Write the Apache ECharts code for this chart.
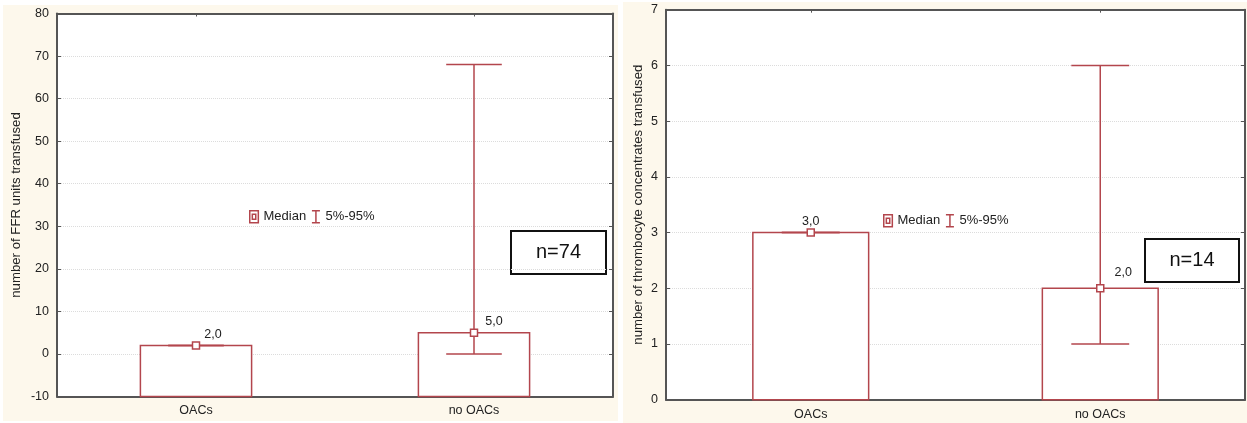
<!DOCTYPE html>
<html>
<head>
<meta charset="utf-8">
<script src="https://cdn.jsdelivr.net/npm/echarts@6/dist/echarts.min.js"></script>
<style>
html,body{margin:0;padding:0;background:#fff;}
#c{width:1247px;height:423px;}
</style>
</head>
<body>
<div id="c"></div>
<script>
// ---- data ----
const categories = ['OACs', 'no OACs'];
// chart 1: FFR units
const ffrMedian = [2.0, 5.0];
const ffrLow = [2.0, 0];
const ffrHigh = [2.0, 68];
const ffrTicks = { min: -10, max: 80, interval: 10 };
const ffrN = 'n=74';
const ffrTitle = 'number of FFR units transfused';
// chart 2: thrombocyte concentrates
const tcMedian = [3.0, 2.0];
const tcLow = [3.0, 1];
const tcHigh = [3.0, 6];
const tcTicks = { min: 0, max: 7, interval: 1 };
const tcN = 'n=14';
const tcTitle = 'number of thrombocyte concentrates transfused';

// ---- style ----
const RED = '#b3464d';
const FRAME = '#555555';
const TXT = '#222222';
const CREAM = '#fdf8ec';
const FONT = 'Arial, "Liberation Sans", sans-serif';

const chart = echarts.init(document.getElementById('c'), null, { renderer: 'canvas' });

function fmt(v) { return v.toFixed(1).replace('.', ','); }

function axesFor(gi, ticks, title, nameGap) {
  const xs = [
    {
      type: 'category', gridIndex: gi, data: categories, position: 'bottom',
      axisLine: { show: true, onZero: false, lineStyle: { color: FRAME, width: 2 } },
      axisTick: { show: true, inside: true, length: 3, alignWithLabel: true, lineStyle: { color: FRAME } },
      axisLabel: { color: TXT, fontSize: 12.5, fontFamily: FONT, margin: 8 },
      splitLine: { show: false }
    },
    {
      type: 'category', gridIndex: gi, data: categories, position: 'top',
      axisLine: { show: true, onZero: false, lineStyle: { color: FRAME, width: 2 } },
      axisTick: { show: true, inside: true, length: 3, alignWithLabel: true, lineStyle: { color: FRAME } },
      axisLabel: { show: false },
      splitLine: { show: false }
    }
  ];
  const ys = [
    {
      type: 'value', gridIndex: gi, position: 'left',
      min: ticks.min, max: ticks.max, interval: ticks.interval,
      name: title, nameLocation: 'middle', nameGap: nameGap, nameRotate: 90,
      nameTextStyle: { color: TXT, fontSize: 13.2, fontFamily: FONT },
      axisLine: { show: true, onZero: false, lineStyle: { color: FRAME, width: 2 } },
      axisTick: { show: true, inside: true, length: 4, lineStyle: { color: FRAME } },
      axisLabel: { color: TXT, fontSize: 12.5, fontFamily: FONT, margin: 8 },
      splitLine: { show: true, lineStyle: { color: '#dcdcdc', type: 'dotted', width: 1 } }
    },
    {
      type: 'value', gridIndex: gi, position: 'right',
      min: ticks.min, max: ticks.max, interval: ticks.interval,
      axisLine: { show: true, onZero: false, lineStyle: { color: FRAME, width: 2 } },
      axisTick: { show: true, inside: true, length: 4, lineStyle: { color: FRAME } },
      axisLabel: { show: false },
      splitLine: { show: false }
    }
  ];
  return { xs, ys };
}

function seriesFor(gi, median, low, high, ticks, labelOffsets) {
  const xi = gi * 2, yi = gi * 2;
  const barData = median.map((v, i) => [i, v]);
  const errData = low.map((l, i) => [i, l, high[i]]);
  const medData = median.map((v, i) => ({
    value: [i, v],
    label: { offset: labelOffsets[i] }
  }));
  return [
    {
      type: 'custom', name: 'bar' + gi, xAxisIndex: xi, yAxisIndex: yi, z: 2,
      renderItem: function (params, api) {
        const c = api.value(0), v = api.value(1);
        const p = api.coord([c, v]);
        const p0 = api.coord([c, ticks.min]);
        const bw = api.size([1, 0])[0] * 0.4;
        return {
          type: 'rect',
          shape: { x: p[0] - bw / 2, y: p[1], width: bw, height: p0[1] - p[1] },
          style: { fill: '#fff', stroke: RED, lineWidth: 1.5 }
        };
      },
      encode: { x: 0, y: 1 },
      data: barData
    },
    {
      type: 'custom', name: '5%-95%', xAxisIndex: xi, yAxisIndex: yi, z: 3,
      renderItem: function (params, api) {
        const c = api.value(0);
        const lo = api.coord([c, api.value(1)]);
        const hi = api.coord([c, api.value(2)]);
        const cw = api.size([1, 0])[0] * 0.2;
        const st = { stroke: RED, lineWidth: 1.5 };
        return {
          type: 'group',
          children: [
            { type: 'line', shape: { x1: lo[0], y1: lo[1], x2: hi[0], y2: hi[1] }, style: st },
            { type: 'line', shape: { x1: lo[0] - cw / 2, y1: lo[1], x2: lo[0] + cw / 2, y2: lo[1] }, style: st },
            { type: 'line', shape: { x1: hi[0] - cw / 2, y1: hi[1], x2: hi[0] + cw / 2, y2: hi[1] }, style: st }
          ]
        };
      },
      encode: { x: 0, y: [1, 2] },
      itemStyle: { color: 'transparent', borderColor: RED },
      data: errData
    },
    {
      type: 'scatter', name: 'Median', xAxisIndex: xi, yAxisIndex: yi, z: 4,
      symbol: 'rect', symbolSize: 7,
      itemStyle: { color: '#fff', borderColor: RED, borderWidth: 1.5, opacity: 1 },
      label: {
        show: true, position: 'top', distance: 0, color: TXT, fontSize: 12.5, fontFamily: FONT,
        formatter: p => fmt(p.value[1])
      },
      emphasis: { disabled: true },
      data: medData
    }
  ];
}

const a1 = axesFor(0, ffrTicks, ffrTitle, 34);
const a2 = axesFor(1, tcTicks, tcTitle, 21);

const medianIcon = 'path://M0,0L10,0L10,14L0,14Z M3,4L7,4L7,10L3,10Z';
const errIcon = 'path://M0,0L8,0M4,0L4,12M0,12L8,12';

function legendAt(left, top) {
  return {
    left: left, top: top, orient: 'horizontal', selectedMode: false,
    itemWidth: 9, itemHeight: 12, itemGap: 5,
    textStyle: { color: TXT, fontSize: 13, fontFamily: FONT },
    data: [
      { name: 'Median', icon: medianIcon, itemStyle: { color: '#fff', borderColor: RED, borderWidth: 1.5 } },
      { name: '5%-95%', icon: errIcon, itemStyle: { color: 'transparent', borderColor: RED, borderWidth: 1.5 } }
    ]
  };
}

function nBox(x, y, w, h, text) {
  return {
    type: 'group', left: x, top: y, z: 100,
    children: [
      { type: 'rect', shape: { x: 0, y: 0, width: w, height: h }, style: { fill: '#fff', stroke: '#111', lineWidth: 2 } },
      { type: 'text', x: w / 2, y: h / 2, style: { text: text, fill: '#111', font: '20px ' + FONT, textAlign: 'center', textVerticalAlign: 'middle' } }
    ]
  };
}

const option = {
  backgroundColor: '#fff',
  animation: false,
  graphic: [
    { type: 'rect', left: 3, top: 5, z: -10, silent: true, shape: { width: 615, height: 416 }, style: { fill: CREAM } },
    { type: 'rect', left: 623, top: 2, z: -10, silent: true, shape: { width: 624, height: 421 }, style: { fill: CREAM } },
    nBox(510, 230, 95, 43, ffrN),
    nBox(1144, 238, 94, 43, tcN)
  ],
  grid: [
    { left: 57, top: 13.5, width: 556, height: 383, show: true, backgroundColor: '#fff', borderWidth: 0, containLabel: false },
    { left: 666, top: 9.7, width: 579, height: 390, show: true, backgroundColor: '#fff', borderWidth: 0, containLabel: false }
  ],
  legend: [legendAt(244, 205), legendAt(878, 209)],
  xAxis: a1.xs.concat(a2.xs),
  yAxis: a1.ys.concat(a2.ys),
  series: seriesFor(0, ffrMedian, ffrLow, ffrHigh, ffrTicks, [[17, 0], [20, 0]])
    .concat(seriesFor(1, tcMedian, tcLow, tcHigh, tcTicks, [[0, 0], [23, -5]]))
};
chart.setOption(option);
</script>
</body>
</html>
